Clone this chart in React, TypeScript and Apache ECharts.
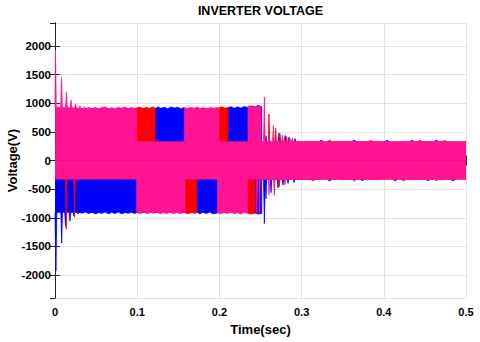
import React, { useEffect, useRef } from "react";
import * as echarts from "echarts";

// Envelopes of the three phase voltages: [time (s), voltage (V)]
const blueHi: [number, number][] = [
  [0, 900], [0.1217, 905],
  [0.1217, 915], [0.125, 935], [0.129, 910], [0.133, 930], [0.137, 905], [0.141, 935], [0.145, 915], [0.149, 930], [0.153, 905], [0.1573, 925],
  [0.1573, 900], [0.2105, 900],
  [0.2105, 920], [0.214, 940], [0.218, 910], [0.222, 935], [0.226, 915], [0.230, 940], [0.2348, 925],
  [0.2348, 930], [0.239, 950], [0.243, 935], [0.247, 960], [0.2515, 940],
  [0.2515, 320], [0.2558, 320], [0.2567, 433], [0.2576, 320],
  [0.2716, 320], [0.2725, 480], [0.2734, 320],
  [0.2791, 320], [0.28, 435], [0.2809, 320],
  [0.2838, 320], [0.2847, 410], [0.2856, 320],
  [0.2911, 320], [0.292, 385], [0.2929, 320],
  [0.32, 320], [0.324, 352], [0.328, 320], [0.36, 320], [0.364, 355], [0.368, 320],
  [0.40, 320], [0.404, 352], [0.408, 320], [0.43, 320], [0.434, 352], [0.438, 320],
  [0.46, 320], [0.464, 355], [0.468, 320], [0.5, 320],
];
const blueLo: [number, number][] = [
  [0, -905], [0.0011, -1930], [0.0022, -905],
  [0.0071, -905], [0.0081, -1443], [0.0091, -905],
  [0.0118, -905], [0.0128, -1150], [0.0138, -905],
  [0.0172, -905], [0.0182, -1060], [0.0192, -905],
  [0.0221, -905], [0.0231, -970], [0.0241, -905],
  [0.027, -905], [0.028, -935], [0.029, -905],
  [0.033, -920], [0.037, -900], [0.041, -925], [0.045, -905], [0.049, -930], [0.053, -910], [0.057, -920],
  [0.061, -900], [0.065, -930], [0.069, -905], [0.073, -925], [0.077, -900], [0.081, -930], [0.085, -910],
  [0.089, -920], [0.093, -905], [0.097, -925], [0.0994, -910],
  [0.0994, -900], [0.1724, -900],
  [0.1724, -910], [0.176, -930], [0.18, -905], [0.184, -925], [0.188, -900], [0.192, -930], [0.1977, -915],
  [0.1977, -900], [0.2433, -900],
  [0.2433, -915], [0.247, -935], [0.2515, -925],
  [0.2515, -330], [0.2537, -330], [0.2547, -1100], [0.2557, -330],
  [0.2559, -330], [0.2567, -666], [0.2575, -330],
  [0.262, -330], [0.2628, -560], [0.2636, -330],
  [0.2705, -330], [0.2713, -480], [0.2721, -330],
  [0.2766, -330], [0.2774, -430], [0.2782, -330],
  [0.2827, -330], [0.2835, -400], [0.2843, -330],
  [0.29, -330], [0.2908, -385], [0.2916, -330],
  [0.33, -320], [0.334, -355], [0.338, -320], [0.37, -320], [0.374, -352], [0.378, -320],
  [0.41, -320], [0.414, -355], [0.418, -320], [0.45, -320], [0.454, -352], [0.458, -320],
  [0.48, -320], [0.484, -355], [0.488, -320], [0.5, -320],
];
const redHi: [number, number][] = [
  [0, 320], [0.0994, 320],
  [0.0994, 915], [0.103, 935], [0.107, 905], [0.111, 930], [0.115, 910], [0.119, 935], [0.1217, 915],
  [0.1217, 320], [0.1995, 320],
  [0.1995, 920], [0.203, 940], [0.207, 910], [0.2105, 930],
  [0.2105, 320],
  [0.2594, 320], [0.2603, 812], [0.2612, 320],
  [0.2676, 320], [0.2685, 560], [0.2694, 320],
  [0.2728, 320], [0.2737, 470], [0.2746, 320],
  [0.2809, 320], [0.2818, 420], [0.2827, 320],
  [0.2879, 320], [0.2888, 395], [0.2897, 320],
  [0.33, 320], [0.334, 352], [0.338, 320], [0.38, 320], [0.384, 350], [0.388, 320],
  [0.44, 320], [0.444, 352], [0.448, 320], [0.47, 320], [0.474, 350], [0.478, 320], [0.5, 320],
];
const redLo: [number, number][] = [
  [0, -320], [0.0128, -320], [0.0137, -1200], [0.0146, -320],
  [0.0229, -320], [0.0238, -990], [0.0247, -320],
  [0.1582, -320],
  [0.1582, -910], [0.162, -930], [0.166, -905], [0.17, -925], [0.1724, -910],
  [0.1724, -320], [0.2342, -320],
  [0.2342, -915], [0.238, -935], [0.2433, -920],
  [0.2433, -320],
  [0.2719, -320], [0.2728, -455], [0.2737, -320],
  [0.31, -320], [0.314, -355], [0.318, -320], [0.36, -320], [0.364, -352], [0.368, -320],
  [0.42, -320], [0.424, -355], [0.428, -320], [0.46, -320], [0.464, -352], [0.468, -320], [0.5, -320],
];
const magentaHi: [number, number][] = [
  [0, 930], [0.0006, 1925], [0.0016, 930],
  [0.0069, 930], [0.0079, 1450], [0.0089, 925],
  [0.0129, 925], [0.0139, 1200], [0.0149, 925],
  [0.0185, 920], [0.0195, 1050], [0.0205, 920],
  [0.024, 915], [0.025, 990], [0.026, 915],
  [0.0294, 910], [0.0304, 955], [0.0314, 905],
  [0.0349, 905], [0.0359, 940], [0.0369, 900],
  [0.041, 925], [0.045, 905], [0.049, 930], [0.053, 900], [0.057, 925], [0.061, 935], [0.065, 905],
  [0.069, 920], [0.073, 900], [0.077, 930], [0.081, 910], [0.085, 935], [0.089, 905], [0.093, 925],
  [0.097, 910], [0.0994, 920],
  [0.0994, 325], [0.1573, 325],
  [0.1573, 925], [0.161, 905], [0.165, 930], [0.169, 910], [0.173, 935], [0.177, 905], [0.181, 925],
  [0.185, 900], [0.189, 930], [0.193, 910], [0.197, 925], [0.1995, 915],
  [0.1995, 325], [0.2348, 325],
  [0.2348, 940], [0.238, 955], [0.242, 930], [0.246, 950], [0.2506, 940],
  [0.2506, 330], [0.2537, 330], [0.2547, 1110], [0.2557, 330],
  [0.2647, 335], [0.2656, 610], [0.2665, 335],
  [0.2757, 335], [0.2766, 440], [0.2775, 335],
  [0.2849, 335], [0.2858, 390], [0.2867, 335],
  [0.295, 330], [0.31, 335], [0.33, 325], [0.35, 335], [0.37, 330], [0.39, 335],
  [0.41, 325], [0.43, 335], [0.45, 330], [0.47, 335], [0.49, 325], [0.5, 330],
];
const magentaLo: [number, number][] = [
  [0, -325], [0.0994, -325],
  [0.0994, -905], [0.104, -925], [0.108, -900], [0.112, -930], [0.116, -905], [0.12, -920], [0.124, -900],
  [0.128, -930], [0.132, -910], [0.136, -925], [0.14, -900], [0.144, -930], [0.148, -905], [0.152, -925], [0.1582, -910],
  [0.1582, -325], [0.1977, -325],
  [0.1977, -915], [0.202, -930], [0.206, -905], [0.21, -925], [0.214, -900], [0.218, -930], [0.222, -910],
  [0.226, -935], [0.23, -905], [0.2342, -920],
  [0.2342, -325],
  [0.2452, -325], [0.2455, -920], [0.2462, -920], [0.2465, -325],
  [0.2485, -325], [0.2488, -920], [0.2494, -920], [0.2497, -325],
  [0.2594, -330], [0.2603, -600], [0.2612, -330],
  [0.2659, -330], [0.2668, -608], [0.2677, -330],
  [0.2789, -330], [0.2798, -420], [0.2807, -330],
  [0.295, -330], [0.31, -335], [0.33, -325], [0.35, -335], [0.37, -330], [0.39, -335],
  [0.41, -325], [0.43, -335], [0.45, -330], [0.47, -335], [0.49, -325], [0.5, -330],
];

const TITLE = "INVERTER VOLTAGE";
const X_NAME = "Time(sec)";
const Y_NAME = "Voltage(V)";

export default function App() {
  const ref = useRef<HTMLDivElement>(null);
  useEffect(() => {
    const chart = echarts.init(ref.current!, null, { renderer: "svg" });
    const font = "Arial, 'Liberation Sans', Helvetica, sans-serif";
    const axisColor = "#262626";
    const gridColor = "#e2e2e2";
    const band = (data: [number, number][], color: string, z: number) => ({
      type: "line",
      data,
      z,
      symbol: "none",
      showSymbol: false,
      silent: true,
      lineStyle: { width: 0.8, color },
      areaStyle: { color, opacity: 1 },
    });
    const baseX = { type: "value", min: 0, max: 0.5, interval: 0.1 };
    const baseY = { type: "value", min: -2400, max: 2400, splitNumber: 10 };
    chart.setOption({
      animation: false,
      backgroundColor: "#ffffff",
      grid: { left: 55, right: 14, top: 23, bottom: 44, containLabel: false, outerBoundsMode: "none" },
      graphic: [
        {
          type: "text",
          x: 260.5,
          y: 11,
          style: {
            text: TITLE,
            textAlign: "center",
            textVerticalAlign: "middle",
            font: `bold 12.5px ${font}`,
            fill: "#000",
          },
        },
        {
          type: "text",
          x: 12,
          y: 160.5,
          rotation: Math.PI / 2,
          style: {
            text: Y_NAME,
            textAlign: "center",
            textVerticalAlign: "middle",
            font: `bold 13px ${font}`,
            fill: "#000",
          },
        },
      ],
      xAxis: [
        {
          ...baseX,
          position: "bottom",
          name: X_NAME,
          nameLocation: "middle",
          nameGap: 25,
          nameTextStyle: { fontFamily: font, fontWeight: "bold", fontSize: 13, color: "#000" },
          axisLine: { lineStyle: { color: axisColor, width: 1 } },
          axisTick: { inside: true, length: 5, lineStyle: { color: axisColor } },
          axisLabel: {
            fontFamily: font, fontWeight: "bold", fontSize: 11, color: "#000", margin: 8,
            formatter: (v: number) => String(+v.toFixed(1)),
          },
          splitLine: { show: true, lineStyle: { color: gridColor, width: 1 } },
        },
        {
          ...baseX,
          position: "top",
          axisLine: { show: true, lineStyle: { color: axisColor, width: 1 } },
          axisTick: { inside: true, length: 5, lineStyle: { color: axisColor } },
          axisLabel: { show: false },
          splitLine: { show: false },
        },
      ],
      yAxis: [
        {
          ...baseY,
          position: "left",
          axisLine: { show: true, lineStyle: { color: axisColor, width: 1 } },
          axisTick: { show: true, inside: true, length: 5, lineStyle: { color: axisColor } },
          axisLabel: {
            fontFamily: font, fontWeight: "bold", fontSize: 11.5, color: "#000", margin: 4,
            showMinLabel: false, showMaxLabel: false,
            formatter: (v: number) => String(Math.round(v)),
          },
          splitLine: { show: true, lineStyle: { color: gridColor, width: 1 } },
        },
        {
          ...baseY,
          position: "right",
          axisLine: { show: true, lineStyle: { color: axisColor, width: 1 } },
          axisTick: { show: true, inside: true, length: 5, lineStyle: { color: axisColor } },
          axisLabel: { show: false },
          splitLine: { show: false },
        },
      ],
      series: [
        band(blueHi, "#0000ff", 2),
        band(blueLo, "#0000ff", 3),
        band(redHi, "#ff0000", 4),
        band(redLo, "#ff0000", 5),
        band(magentaHi, "#ff1493", 6),
        band(magentaLo, "#ff1493", 7),
      ],
    });
    return () => chart.dispose();
  }, []);
  return (
    <div
      ref={ref}
      style={{ position: "fixed", left: 0, top: 0, width: 480, height: 342, background: "#fff" }}
    />
  );
}
